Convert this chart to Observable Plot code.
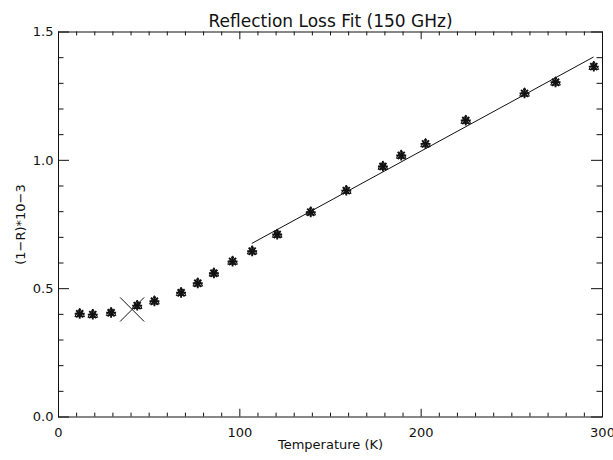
<!DOCTYPE html>
<html>
<head>
<meta charset="utf-8">
<script src="https://cdn.jsdelivr.net/npm/d3@7"></script>
<script src="https://cdn.jsdelivr.net/npm/@observablehq/plot@0.6"></script>
<style>
  html, body { margin: 0; padding: 0; background: #fff; }
  #chart svg { display: block; }
</style>
</head>
<body>
<div id="chart"></div>
<script>
// ---- data ----
const title = "Reflection Loss Fit (150 GHz)";
const xTitle = "Temperature (K)";
const yTitle = "(1\u2212R)*10\u22123";

const temperature = [11.7, 18.9, 29.0, 43.4, 52.9, 67.6, 76.8, 85.7, 96.0, 106.8,
                     120.6, 139.1, 158.7, 178.9, 189.0, 202.4, 224.6, 257.0, 274.1, 295.2];
const loss        = [0.402, 0.399, 0.406, 0.434, 0.451, 0.484, 0.521, 0.560, 0.606, 0.646,
                     0.711, 0.798, 0.882, 0.976, 1.019, 1.064, 1.155, 1.261, 1.304, 1.365];

const fitT = [106.8, 294.9];
const fitL = [0.677, 1.402];

const markT = [40.6];
const markL = [0.419];

const xTicks = [0, 100, 200, 300];
const yTicks = [0, 0.5, 1.0, 1.5];
const xMinor = d3.range(0, 301, 10).filter(v => v % 100 !== 0);
const yMinor = d3.range(1, 15).filter(i => i % 5 !== 0).map(i => i / 10);

// ---- layout ----
const W = 613, H = 460;
const mL = 58, mR = 11, mT = 31.5, mB = 43.5;
const fw = W - mL - mR, fh = H - mT - mB;
const yMajLen = 11, yMinLen = 5.5, xMajLen = 7.7, xMinLen = 3.9;

const pts = temperature.map((t, i) => ({t, l: loss[i]}));
const fit = fitT.map((t, i) => ({t, l: fitL[i]}));
const mark = markT.map((t, i) => ({t, l: markL[i]}));

const ink = "#111";

const chart = Plot.plot({
  width: W, height: H,
  marginLeft: mL, marginRight: mR, marginTop: mT, marginBottom: mB,
  style: {fontFamily: "DejaVu Sans, sans-serif", fontSize: "13px", color: ink, background: "#fff"},
  x: {domain: [0, 300], ticks: xTicks, tickSize: 0, tickPadding: 11, label: null, tickFormat: d3.format("d")},
  y: {domain: [0, 1.5], ticks: yTicks, tickSize: 0, tickPadding: 5, label: null, tickFormat: d3.format(".1f")},
  marks: [
    Plot.frame({stroke: ink}),
    // y ticks (left & right, inward)
    Plot.tickY(yTicks, {y: d => d, insetRight: fw - yMajLen, stroke: ink}),
    Plot.tickY(yMinor, {y: d => d, insetRight: fw - yMinLen, stroke: ink}),
    Plot.tickY(yTicks, {y: d => d, insetLeft: fw - yMajLen, stroke: ink}),
    Plot.tickY(yMinor, {y: d => d, insetLeft: fw - yMinLen, stroke: ink}),
    // x ticks (bottom & top, inward)
    Plot.tickX(xTicks, {x: d => d, insetTop: fh - xMajLen, stroke: ink}),
    Plot.tickX(xMinor, {x: d => d, insetTop: fh - xMinLen, stroke: ink}),
    Plot.tickX(xTicks, {x: d => d, insetBottom: fh - xMajLen, stroke: ink}),
    Plot.tickX(xMinor, {x: d => d, insetBottom: fh - xMinLen, stroke: ink}),
    // fit line
    Plot.line(fit, {x: "t", y: "l", stroke: ink, strokeWidth: 1}),
    // data: triangles + asterisks
    Plot.dot(pts, {x: "t", y: "l", symbol: "triangle", r: 3.6, stroke: ink, strokeWidth: 1}),
    Plot.dot(pts, {x: "t", y: "l", symbol: "plus", r: 3.3, stroke: ink, strokeWidth: 1.9}),
    Plot.dot(pts, {x: "t", y: "l", symbol: "times", r: 3.3, stroke: ink, strokeWidth: 1.9}),
    // big X marker
    Plot.dot(mark, {x: "t", y: "l", symbol: "times", r: 11, stroke: ink, strokeWidth: 1}),
    // titles
    Plot.text([title], {text: d => d, frameAnchor: "top", dy: -17, fontSize: 17, fill: ink}),
    Plot.text([xTitle], {text: d => d, frameAnchor: "bottom", dy: 31.5, fontSize: 13, fill: ink}),
    Plot.text([yTitle], {text: d => d, frameAnchor: "left", textAnchor: "middle", dx: -38, rotate: -90, fontSize: 13, fill: ink})
  ]
});

document.getElementById("chart").appendChild(chart);
</script>
</body>
</html>
